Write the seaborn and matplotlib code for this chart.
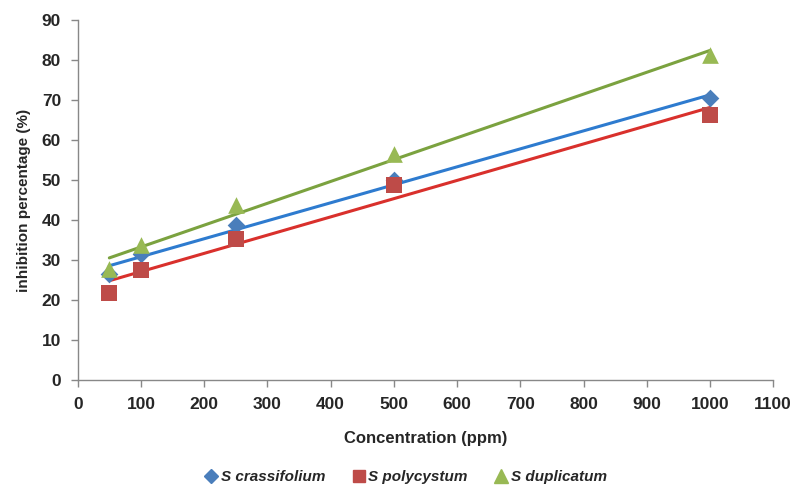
import numpy as np
import matplotlib
matplotlib.use("Agg")
import matplotlib.pyplot as plt
import seaborn as sns

conc = [50, 100, 250, 500, 1000]
crassifolium = [26.5, 31.5, 38.7, 50.0, 70.5]
polycystum = [21.7, 27.5, 35.3, 48.7, 66.3]
duplicatum = [27.7, 33.7, 43.7, 56.5, 81.3]

sns.set_style("white")
plt.rcParams['font.family'] = ['Liberation Sans', 'DejaVu Sans']

fig = plt.figure(figsize=(7.93, 4.93), dpi=100)
ax = fig.add_axes([0.098, 0.229, 0.877, 0.730])

series = [
    ("S crassifolium", crassifolium, "D", "#4a7ebb", "#2e7bcf", 9),
    ("S polycystum", polycystum, "s", "#be4b48", "#d9302c", 11),
    ("S duplicatum", duplicatum, "^", "#98b954", "#7ba23f", 12),
]

for name, vals, mk, mc, lc, ms in series:
    sns.regplot(x=conc, y=vals, ax=ax, ci=None, truncate=True, marker=mk,
                scatter_kws=dict(s=ms**2, color=mc, zorder=3, linewidths=0, alpha=1),
                line_kws=dict(color=lc, lw=2.2, zorder=2), label=name)

ax.set_xlim(0, 1100)
ax.set_ylim(0, 90)
ax.set_xticks(range(0, 1101, 100))
ax.set_yticks(range(0, 91, 10))
for s in ["top", "right"]:
    ax.spines[s].set_visible(False)
for s in ["left", "bottom"]:
    ax.spines[s].set_color("#888888")
    ax.spines[s].set_linewidth(1)
ax.tick_params(axis="both", length=5, width=1, color="#888888", direction="out",
               labelsize=12.5, left=True, bottom=True, pad=7)
for lab in ax.get_xticklabels() + ax.get_yticklabels():
    lab.set_fontweight("bold")
ax.set_xlabel("Concentration (ppm)", fontsize=12, fontweight="bold", labelpad=14)
ax.set_ylabel("inhibition percentage (%)", fontsize=11, fontweight="bold", labelpad=8)

handles = [plt.Line2D([], [], marker=mk, color=mc, ls="none", markersize=ms * 0.8)
           for name, vals, mk, mc, lc, ms in series]
fig.legend(handles, [s[0] for s in series], loc="lower center", ncol=3,
           bbox_to_anchor=(0.51, -0.01), frameon=False, handletextpad=0.05,
           handlelength=1.2, columnspacing=1.6,
           prop=dict(size=11, weight="bold", style="italic"))

fig.savefig("out.png", dpi=100)
